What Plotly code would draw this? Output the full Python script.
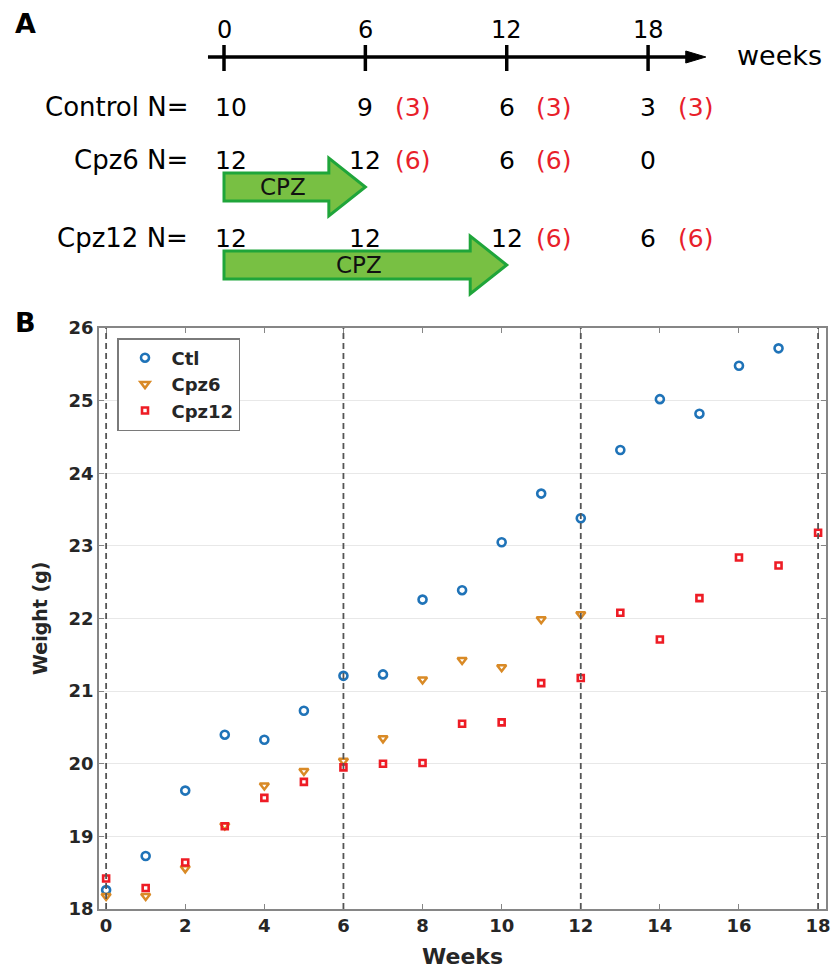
import plotly.graph_objects as go

# ---------------- data ----------------
weeks = list(range(19))
ctl_weight = [18.26, 18.73, 19.63, 20.40, 20.33, 20.73, 21.21, 21.23, 22.26, 22.39,
              23.05, 23.72, 23.38, 24.32, 25.02, 24.82, 25.48, 25.72]
cpz6_weight = [18.18, 18.18, 18.56, 19.15, 19.70, 19.90, 20.04, 20.35, 21.16, 21.43,
               21.33, 21.99, 22.06]
cpz12_weight = [18.42, 18.29, 18.64, 19.14, 19.53, 19.75, 19.95, 20.00, 20.01, 20.55,
                20.57, 21.11, 21.18, 22.08, 21.71, 22.28, 22.84, 22.73, 23.18]
phase_weeks = [0, 6, 12, 18]

# Panel A (study design)
timeline_weeks = [0, 6, 12, 18]
group_labels = ["Control N=", "Cpz6 N=", "Cpz12 N="]
group_n = [[10, 9, 6, 3], [12, 12, 6, 0], [12, 12, 12, 6]]
group_removed = [[None, 3, 3, 3], [None, 6, 6, None], [None, None, 6, 6]]
cpz_duration = [None, 6, 12]

# ---------------- style ----------------
W, H = 835, 969
BLUE = "#1f73b8"
ORANGE = "#d98a26"
RED = "#ee1c25"
TXT = "#262626"
GRAYAX = "#868686"
FB = "DejaVu Sans"
PX_PER_WEEK_A = 23.56
X0_A = 224

fig = go.Figure()

fig.add_trace(go.Scatter(x=weeks[:len(ctl_weight)], y=ctl_weight, mode="markers", name="Ctl",
                         marker=dict(symbol="circle-open", size=8, color=BLUE, line=dict(width=2.6, color=BLUE))))
fig.add_trace(go.Scatter(x=weeks[:len(cpz6_weight)], y=cpz6_weight, mode="markers", name="Cpz6",
                         marker=dict(symbol="triangle-down-open", size=8, color=ORANGE, line=dict(width=2.5, color=ORANGE))))
fig.add_trace(go.Scatter(x=weeks[:len(cpz12_weight)], y=cpz12_weight, mode="markers", name="Cpz12",
                         marker=dict(symbol="square-open", size=6, color=RED, line=dict(width=2.6, color=RED))))

# hidden trace for panel A axes
fig.add_trace(go.Scatter(x=[None], y=[None], xaxis="x2", yaxis="y2", showlegend=False, hoverinfo="skip"))

# main plot domains (pixel-based)
x0p, x1p, ytop, ybot = 99, 826, 328, 909
fig.update_layout(
    width=W, height=H, margin=dict(l=0, r=0, t=0, b=0, pad=0, autoexpand=False),
    paper_bgcolor="white", plot_bgcolor="rgba(0,0,0,0)",
    showlegend=True,
    legend=dict(x=117 / W, y=1 - 338 / H, xanchor="left", yanchor="top",
                bgcolor="white", bordercolor="#7a7a7a", borderwidth=1.5,
                font=dict(family=FB, size=18, color=TXT, weight="bold"),
                itemwidth=43, tracegroupgap=0),
    xaxis=dict(domain=[x0p / W, x1p / W], range=[-0.18, 18.2], tickvals=list(range(0, 19, 2)),
               showgrid=False, zeroline=False, showline=True, linecolor=GRAYAX, linewidth=1.5,
               mirror="ticks", ticks="inside", ticklen=5, tickcolor=GRAYAX, tickwidth=1.2,
               tickfont=dict(family=FB, size=18, color=TXT, weight="bold"), anchor="y",
               automargin=False),
    yaxis=dict(domain=[1 - ybot / H, 1 - ytop / H], range=[18, 26], tickvals=list(range(18, 27)),
               showgrid=True, gridcolor="#e8e8e8", gridwidth=1.2, zeroline=False, showline=True,
               linecolor=GRAYAX, linewidth=1.5, mirror="ticks", ticks="inside", ticklen=5,
               tickcolor=GRAYAX, tickwidth=1.2,
               tickfont=dict(family=FB, size=18, color=TXT, weight="bold"), anchor="x",
               automargin=False),
    xaxis2=dict(domain=[0, 1], range=[-X0_A / PX_PER_WEEK_A, (W - X0_A) / PX_PER_WEEK_A], visible=False,
                anchor="y2", fixedrange=True, automargin=False),
    yaxis2=dict(domain=[0, 1], range=[H, 0], visible=False, anchor="x2", fixedrange=True,
                automargin=False),
)

shapes = []
# dashed phase lines
for wk in phase_weeks:
    shapes.append(dict(type="line", xref="x", yref="y", x0=wk, x1=wk, y0=18, y1=26,
                       line=dict(color="#555555", width=1.8, dash="6px,4px")))

# Panel A timeline
tl_y = 57
shapes.append(dict(type="line", xref="x2", yref="y2", x0=-0.68, x1=20.0, y0=tl_y, y1=tl_y,
                   line=dict(color="black", width=3.5)))
shapes.append(dict(type="path", xref="x2", yref="y2",
                   path=f"M 19.6,{tl_y-6} L 20.45,{tl_y} L 19.6,{tl_y+6} Z",
                   fillcolor="black", line=dict(color="black", width=1)))
annotations = []
for wk in timeline_weeks:
    shapes.append(dict(type="line", xref="x2", yref="y2", x0=wk, x1=wk, y0=45, y1=71,
                       line=dict(color="black", width=3.5)))
    annotations.append(dict(x=wk, y=30, xref="x2", yref="y2", text=str(wk), showarrow=False,
                            font=dict(family=FB, size=24, color="black"), xanchor="center", yanchor="middle"))
annotations.append(dict(x=(735 - X0_A) / PX_PER_WEEK_A, y=55, xref="x2", yref="y2", text="weeks", showarrow=False,
                        font=dict(family=FB, size=27, color="black"), xanchor="left", yanchor="middle"))
annotations.append(dict(x=13 / W, y=1 - 23 / H, xref="paper", yref="paper", text="<b>A</b>", showarrow=False,
                        font=dict(family=FB, size=27, color="black"), xanchor="left", yanchor="middle"))
annotations.append(dict(x=13 / W, y=1 - 323 / H, xref="paper", yref="paper", text="<b>B</b>", showarrow=False,
                        font=dict(family=FB, size=27, color="black"), xanchor="left", yanchor="middle"))

row_y = [107, 160, 238]
arrow_mid = [None, 187, 265]
for r, lab in enumerate(group_labels):
    yy = row_y[r]
    annotations.append(dict(x=(190 - X0_A) / PX_PER_WEEK_A, y=yy, xref="x2", yref="y2", text=lab, showarrow=False,
                            font=dict(family=FB, size=26, color="black"), xanchor="right", yanchor="middle"))
    for c, wk in enumerate(timeline_weeks):
        annotations.append(dict(x=wk, y=yy, xref="x2", yref="y2", text=str(group_n[r][c]), showarrow=False,
                                xshift=7 if c == 0 else 0, height=26,
                                font=dict(family=FB, size=25, color="black"), xanchor="center", yanchor="middle"))
        if group_removed[r][c] is not None:
            annotations.append(dict(x=wk + 2, y=yy, xref="x2", yref="y2", text=f"({group_removed[r][c]})",
                                    showarrow=False, font=dict(family=FB, size=25, color="#e8202a"),
                                    xanchor="center", yanchor="middle"))
    if cpz_duration[r] is not None:
        d = cpz_duration[r]
        m = arrow_mid[r]
        sh = d - 1.55
        path = (f"M 0,{m-14} L {sh},{m-14} L {sh},{m-29} L {d},{m} L {sh},{m+29} "
                f"L {sh},{m+14} L 0,{m+14} Z")
        shapes.append(dict(type="path", xref="x2", yref="y2", path=path,
                           fillcolor="#78c043", line=dict(color="#1fa53a", width=3)))
        annotations.append(dict(x=(d - 1.55) / 2 + (0.5 if d == 12 else 0.3), y=m, xref="x2", yref="y2",
                                text="CPZ", showarrow=False, height=22,
                                font=dict(family=FB, size=23, color="#111111"), xanchor="center", yanchor="middle"))

# axis titles
annotations.append(dict(x=(x0p + x1p) / 2 / W, y=1 - 956 / H, xref="paper", yref="paper",
                        text="<b>Weeks</b>", showarrow=False,
                        font=dict(family=FB, size=22, color=TXT), xanchor="center", yanchor="middle"))
annotations.append(dict(x=40 / W, y=1 - 619 / H, xref="paper", yref="paper", text="<b>Weight (g)</b>",
                        showarrow=False, textangle=-90,
                        font=dict(family=FB, size=19, color=TXT), xanchor="center", yanchor="middle"))

fig.update_layout(shapes=shapes, annotations=annotations)
fig.write_html("out.html")
